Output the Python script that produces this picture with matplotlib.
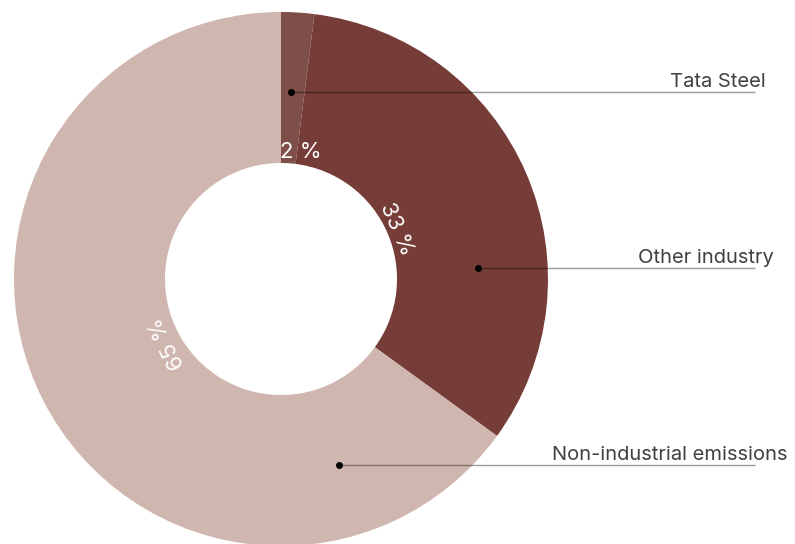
import numpy as np
import matplotlib
matplotlib.use('Agg')
import matplotlib.pyplot as plt

# data
categories = ['Tata Steel', 'Other industry', 'Non-industrial emissions']
shares = [2, 33, 65]
pct_labels = ['2 %', '33 %', '65 %']
colors = ['#7E4E48', '#763D38', '#CFB6AE']

plt.rcParams['font.family'] = ['Inter', 'DejaVu Sans']

fig = plt.figure(figsize=(7.95, 5.44), dpi=100)
W, H = 795, 544
cx, cy, R = 281, 279, 267
ax = fig.add_axes([(cx - R) / W, (H - cy - R) / H, 2 * R / W, 2 * R / H])

wedges, _ = ax.pie(shares, colors=colors, startangle=90, counterclock=False,
                   radius=1, wedgeprops=dict(width=1 - 116 / R, linewidth=0))
ax.set_xlim(-1, 1)
ax.set_ylim(-1, 1)
ax.axis('off')

# percentage labels along the ring, near the hole
label_r = [0.48, 0.47, 0.49]
label_shift = [-5.5, 0, 2.5]
for w, lab, r, s in zip(wedges, pct_labels, label_r, label_shift):
    mid = (w.theta1 + w.theta2) / 2
    rot = mid - 90 if lab != '2 %' else 0
    a = mid + s
    ax.text(r * np.cos(np.radians(a)), r * np.sin(np.radians(a)), lab,
            ha='center', va='center', rotation=rot, rotation_mode='anchor',
            color='white', fontsize=16)

# leader lines with dots and labels on the right
anchor_ang = [86.9, 3.2, -72.7]
anchor_r = [0.70, 0.74, 0.73]
line_end = (755 - cx) / R
text_right = [766, 774, 788]
for name, a, r, tx in zip(categories, anchor_ang, anchor_r, text_right):
    x0 = r * np.cos(np.radians(a))
    y0 = r * np.sin(np.radians(a))
    ax.plot([x0, line_end], [y0, y0], color='black', alpha=0.38, lw=1.0,
            clip_on=False, solid_capstyle='butt')
    ax.plot([x0], [y0], 'o', color='black', ms=4, clip_on=False)
    ax.text((tx - cx) / R, y0 + 10 / R, name, ha='right', va='center',
            fontsize=14.5, color='#404040', clip_on=False)

fig.savefig('out.png', dpi=100)
